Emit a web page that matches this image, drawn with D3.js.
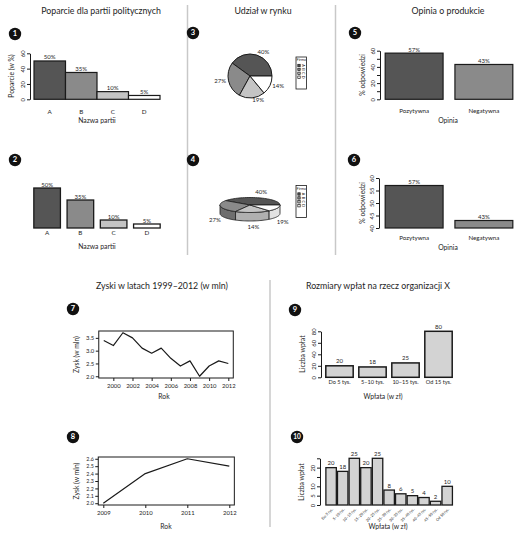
<!DOCTYPE html>
<html><head><meta charset="utf-8">
<script src="https://cdn.jsdelivr.net/npm/d3@7"></script>
<style>body{margin:0;background:#fff} svg{display:block}</style>
</head><body><svg id="c" width="520" height="535"></svg>
<script>
// ---------- DATA ----------
const parties = ["A","B","C","D"];
const support = [50,35,10,5];
const supportLabels = ["50%","35%","10%","5%"];
const partyColors = ["#555555","#8a8a8a","#c4c4c4","#ffffff"];
const firms = ["A","B","C","D"];
const share = [40,27,19,14];
const pieLabels = ["40%","27%","19%","14%"];
const pie3DLabels = ["40%","27%","14%","19%"];
const opinions = ["Pozytywna","Negatywna"];
const opinionPct = [57,43];
const opinionLabels = ["57%","43%"];
const opinionColors = ["#555555","#8a8a8a"];
const years = [1999,2000,2001,2002,2003,2004,2005,2006,2007,2008,2009,2010,2011,2012];
const profit = [3.4,3.2,3.7,3.5,3.1,2.9,3.1,2.7,2.4,2.6,2.0,2.4,2.6,2.5];
const years2 = [2009,2010,2011,2012];
const profit2 = [2.0,2.4,2.6,2.5];
const bins4 = ["Do 5 tys.","5–10 tys.","10–15 tys.","Od 15 tys."];
const counts4 = [20,18,25,80];
const bins11 = ["Do 5 tys.","5–10 tys.","10–15 tys.","15–20 tys.","20–25 tys.","25–30 tys.","30–35 tys.","35–40 tys.","40–45 tys.","45–50 tys.","Od 50 tys."];
const counts11 = [20,18,25,20,25,8,6,5,4,2,10];

// ---------- HELPERS ----------
const FONT = "Lato, 'Open Sans', sans-serif";
const svg = d3.select("#c");
const INK = "#1a1a1a";
const TXT = "#1e1e1e";
function txt(x, y, s, size, o = {}) {
  const t = svg.append("text").attr("x", x).attr("y", y).text(s)
    .attr("font-size", size).attr("font-family", FONT)
    .attr("text-anchor", o.anchor || "middle")
    .attr("dominant-baseline", o.baseline || "middle")
    .attr("fill", o.fill || TXT);
  if (o.rotate) t.attr("transform", `rotate(${o.rotate},${x},${y})`);
  if (o.weight) t.attr("font-weight", o.weight);
  return t;
}
function badge(x, y, n) {
  svg.append("circle").attr("cx", x).attr("cy", y).attr("r", 6.2).attr("fill", "#111");
  txt(x, y + 0.5, n, n.length > 1 ? 6.5 : 7.5, {fill: "#fff", weight: "bold"});
}
function styleAxis(g) {
  g.select(".domain").attr("stroke", INK).attr("stroke-width", 1);
  g.selectAll(".tick line").attr("stroke", INK).attr("stroke-width", 1);
}
function yAxisRot(x, y, ticks, labels, size) {
  const ax = d3.axisLeft(y).tickValues(ticks).tickSize(3).tickSizeOuter(0)
    .tickFormat(d => labels.includes(d) ? String(d) : "");
  const g = svg.append("g").attr("transform", `translate(${x},0)`).call(ax);
  styleAxis(g);
  g.selectAll(".tick text").attr("x", null).attr("dy", null)
    .attr("transform", "translate(-5,0) rotate(-90)")
    .attr("text-anchor", "middle").attr("font-size", size)
    .attr("font-family", FONT).attr("fill", TXT);
  return g;
}
function bars(xs, y, cats, vals, base, fills, sw) {
  svg.append("g").selectAll("rect").data(vals).join("rect")
    .attr("x", (d, i) => xs(cats[i])).attr("y", d => y(d))
    .attr("width", xs.bandwidth()).attr("height", d => y(base) - y(d))
    .attr("fill", (d, i) => Array.isArray(fills) ? fills[i] : fills)
    .attr("stroke", INK).attr("stroke-width", sw);
}
function valueLabels(xs, y, cats, vals, labs, size, off) {
  vals.forEach((v, i) => txt(xs(cats[i]) + xs.bandwidth() / 2, y(v) - off, labs[i], size, {baseline: "auto"}));
}
function catLabels(xs, cats, yy, size) {
  cats.forEach(c => txt(xs(c) + xs.bandwidth() / 2, yy, c, size));
}

// ---------- DIVIDERS ----------
[[187.5, 5, 255], [335.5, 5, 255], [270, 280, 527]].forEach(([x, a, b]) =>
  svg.append("line").attr("x1", x).attr("x2", x).attr("y1", a).attr("y2", b)
    .attr("stroke", "#c8c8c8").attr("stroke-width", 1.5));

// ---------- TITLES ----------
const TFS = 8.8;
txt(101, 12, "Poparcie dla partii politycznych", TFS);
txt(263, 12, "Udział w rynku", TFS);
txt(448, 12, "Opinia o produkcie", TFS);
txt(162, 287, "Zyski w latach 1999–2012 (w mln)", TFS);
txt(378, 287, "Rozmiary wpłat na rzecz organizacji X", TFS);

const AFS = 6.8;  // axis titles
const VFS = 6;    // value labels
const KFS = 5.9;  // tick labels

// ---------- PANEL 1 ----------
badge(15, 34, "1");
{
  const xs = d3.scaleBand().domain(parties).range([34, 160]).padding(0);
  const y = d3.scaleLinear().domain([0, 60]).range([99.3, 53.3]);
  bars(xs, y, parties, support, 0, partyColors, 1.2);
  yAxisRot(30, y, [0, 20, 40, 60], [0, 20, 40, 60], KFS);
  valueLabels(xs, y, parties, support, supportLabels, VFS, 1.5);
  catLabels(xs, parties, 112, 6.3);
  txt(97, 121, "Nazwa partii", AFS);
  txt(12, 76, "Poparcie (w %)", AFS, {rotate: -90});
}

// ---------- PANEL 2 ----------
badge(15, 160, "2");
{
  const xs = d3.scaleBand().domain(parties).range([30.5, 163.5]).paddingInner(0.2).paddingOuter(0.1);
  const y = d3.scaleLinear().domain([0, 60]).range([228, 180]);
  bars(xs, y, parties, support, 0, partyColors, 1.3);
  valueLabels(xs, y, parties, support, supportLabels, VFS, 1.5);
  catLabels(xs, parties, 233.5, 6.3);
  txt(97, 247, "Nazwa partii", AFS);
}

// ---------- PANEL 3 (pie) ----------
badge(193, 33, "3");
{
  const cx = 250, cy = 76, r = 22;
  const pie = d3.pie().sort(null).startAngle(Math.PI / 2).endAngle(Math.PI / 2 - 2 * Math.PI);
  const arcs = pie(share);
  const arc = d3.arc().innerRadius(0).outerRadius(r);
  const g = svg.append("g").attr("transform", `translate(${cx},${cy})`);
  g.selectAll("path").data(arcs).join("path").attr("d", arc)
    .attr("fill", (d, i) => partyColors[i]).attr("stroke", INK).attr("stroke-width", 1);
  arcs.forEach((a, i) => {
    const m = (a.startAngle + a.endAngle) / 2; // d3 angle: 0 at top, clockwise
    const dx = Math.sin(m), dy = -Math.cos(m);
    txt(cx + 1.12 * r * dx, cy + 1.12 * r * dy, pieLabels[i], VFS, {anchor: dx >= 0 ? "start" : "end"});
  });
}
function legend(x0, y0) {
  svg.append("rect").attr("x", x0).attr("y", y0).attr("width", 10.5).attr("height", 32)
    .attr("fill", "#fff").attr("stroke", INK).attr("stroke-width", 0.8);
  txt(x0 + 5.3, y0 + 3.3, "Firma", 3.8);
  firms.forEach((f, i) => {
    const yy = y0 + 8.5 + i * 3.9;
    svg.append("rect").attr("x", x0 + 1.8).attr("y", yy - 1.2).attr("width", 2.4).attr("height", 2.4)
      .attr("fill", partyColors[i]).attr("stroke", INK).attr("stroke-width", 0.7);
    txt(x0 + 7.3, yy, f, 3.8, {rotate: 90});
  });
}
legend(296, 57);

// ---------- PANEL 4 (3D pie) ----------
badge(193, 160, "4");
{
  const cx = 250, cy = 205, rx = 30, ry = 7.5, h = 8.5;
  const pie = d3.pie().sort(null).startAngle(0).endAngle(2 * Math.PI);
  const arcs = pie(share); // interpreted as angle counter-clockwise from east
  const pt = (t, dy = 0) => [cx + rx * Math.cos(t), cy - ry * Math.sin(t) + dy];
  const sideCol = ["#444444", "#6e6e6e", "#b0b0b0", "#e2e2e2"];
  const g = svg.append("g");
  arcs.forEach((a, i) => {
    const s = Math.max(a.startAngle, Math.PI), e = Math.min(a.endAngle, 2 * Math.PI);
    if (e <= s) return;
    const n = 30, top = [], bot = [];
    for (let k = 0; k <= n; k++) { const t = s + (e - s) * k / n; top.push(pt(t)); bot.push(pt(t, h)); }
    const path = "M" + top.map(p => p.join(",")).join("L") + "L" + bot.reverse().map(p => p.join(",")).join("L") + "Z";
    g.append("path").attr("d", path).attr("fill", sideCol[i]).attr("stroke", INK).attr("stroke-width", 0.8);
  });
  arcs.forEach((a, i) => {
    const n = 40, ps = [[cx, cy]];
    for (let k = 0; k <= n; k++) ps.push(pt(a.startAngle + (a.endAngle - a.startAngle) * k / n));
    g.append("path").attr("d", "M" + ps.map(p => p.join(",")).join("L") + "Z")
      .attr("fill", partyColors[i]).attr("stroke", INK).attr("stroke-width", 0.8);
  });
  arcs.forEach((a, i) => {
    const m = (a.startAngle + a.endAngle) / 2;
    const sn = Math.sin(m);
    txt(cx + 1.2 * rx * Math.cos(m), cy - 1.25 * ry * sn + (sn < 0 ? h + 4.5 : -3.5), pie3DLabels[i], VFS);
  });
}
legend(296, 185.5);

// ---------- PANEL 5 ----------
badge(355, 33, "5");
{
  const xs = d3.scaleBand().domain(opinions).range([381, 517]).paddingInner(0.17).paddingOuter(0.06);
  const y = d3.scaleLinear().domain([0, 60]).range([99.3, 50.7]);
  bars(xs, y, opinions, opinionPct, 0, opinionColors, 1.2);
  yAxisRot(380, y, [0, 10, 20, 30, 40, 50, 60], [0, 20, 40, 60], KFS);
  valueLabels(xs, y, opinions, opinionPct, opinionLabels, VFS, 1.5);
  catLabels(xs, opinions, 111, 6.2);
  txt(448, 121, "Opinia", AFS);
  txt(363, 75, "% odpowiedzi", AFS, {rotate: -90});
}

// ---------- PANEL 6 ----------
badge(354, 160, "6");
{
  const xs = d3.scaleBand().domain(opinions).range([381, 517]).paddingInner(0.17).paddingOuter(0.06);
  const y = d3.scaleLinear().domain([40, 60]).range([228, 178]);
  bars(xs, y, opinions, opinionPct, 40, opinionColors, 1.2);
  yAxisRot(379, y, [40, 45, 50, 55, 60], [40, 45, 50, 55, 60], KFS);
  valueLabels(xs, y, opinions, opinionPct, opinionLabels, VFS, 1.5);
  catLabels(xs, opinions, 238.5, 6.2);
  txt(448, 248, "Opinia", AFS);
  txt(363, 203, "% odpowiedzi", AFS, {rotate: -90});
}

// ---------- LINE PANELS ----------
function linePanel(yr, vals, x0, x1, yTop, yBot, yTicks, xTicks, fmt, tickFs) {
  const pad = (yr[yr.length - 1] - yr[0]) * 0.04;
  const dmin = d3.min(vals), dmax = d3.max(vals), vpad = (dmax - dmin) * 0.04;
  const x = d3.scaleLinear().domain([yr[0], yr[yr.length - 1]]).range([x0, x1]);
  const y = d3.scaleLinear().domain([dmin - vpad, dmax + vpad]).range([yBot, yTop]);
  const bx0 = x(yr[0] - pad), bx1 = x(yr[yr.length - 1] + pad);
  svg.append("path").datum(vals).attr("fill", "none").attr("stroke", INK).attr("stroke-width", 1.2)
    .attr("stroke-linejoin", "round")
    .attr("d", d3.line().x((d, i) => x(yr[i])).y(d => y(d)));
  svg.append("rect").attr("x", bx0).attr("y", yTop).attr("width", bx1 - bx0).attr("height", yBot - yTop)
    .attr("fill", "none").attr("stroke", INK).attr("stroke-width", 1);
  const gy = svg.append("g").attr("transform", `translate(${bx0},0)`)
    .call(d3.axisLeft(y).tickValues(yTicks).tickSize(3).tickSizeOuter(0).tickFormat(d3.format(fmt)));
  styleAxis(gy); gy.select(".domain").remove();
  gy.selectAll(".tick text").attr("x", -4.5).attr("font-size", tickFs).attr("font-family", FONT).attr("fill", TXT);
  const gx = svg.append("g").attr("transform", `translate(0,${yBot})`)
    .call(d3.axisBottom(x).tickValues(xTicks).tickSize(3).tickSizeOuter(0).tickFormat(d3.format("d")));
  styleAxis(gx); gx.select(".domain").remove();
  gx.selectAll(".tick text").attr("y", 6).attr("font-size", KFS).attr("font-family", FONT).attr("fill", TXT);
}
badge(73, 309, "7");
linePanel(years, profit, 103.75, 228.3, 331, 378, [2.0, 2.5, 3.0, 3.5], [2000, 2002, 2004, 2006, 2008, 2010, 2012], ".1f", KFS);
txt(164, 397, "Rok", AFS);
txt(77, 354.5, "Zysk (w mln)", AFS, {rotate: -90});

badge(73, 437, "8");
linePanel(years2, profit2, 103.3, 229.3, 457, 505, [2.0, 2.1, 2.2, 2.3, 2.4, 2.5, 2.6], years2, ".1f", 5.3);
txt(166, 527, "Rok", AFS);
txt(77, 481, "Zysk (w mln)", AFS, {rotate: -90});

// ---------- PANEL 9 ----------
badge(295, 310, "9");
{
  const xs = d3.scaleBand().domain(bins4).range([322.5, 455.5]).paddingInner(0.17).paddingOuter(0.1);
  const y = d3.scaleLinear().domain([0, 80]).range([377.3, 331.3]);
  bars(xs, y, bins4, counts4, 0, "#d3d3d3", 1.5);
  yAxisRot(321, y, [0, 20, 40, 60, 80], [0, 20, 40, 60, 80], KFS);
  valueLabels(xs, y, bins4, counts4, counts4.map(String), VFS, 2.5);
  catLabels(xs, bins4, 383, 5.6);
  txt(383, 397, "Wpłata (w zł)", AFS);
  txt(303, 354, "Liczba wpłat", AFS, {rotate: -90});
}

// ---------- PANEL 10 ----------
badge(297, 437, "10");
{
  const xs = d3.scaleBand().domain(bins11).range([325.3, 453]).paddingInner(0.1).paddingOuter(0.05);
  const y = d3.scaleLinear().domain([0, 25]).range([505, 458.3]);
  bars(xs, y, bins11, counts11, 0, "#d3d3d3", 1.3);
  yAxisRot(320, y, [0, 5, 10, 15, 20, 25], [0, 5, 10, 20], KFS);
  valueLabels(xs, y, bins11, counts11, counts11.map(String), VFS, 2.3);
  bins11.forEach(b => {
    const xx = xs(b) + xs.bandwidth() / 2 + 1.5, yy = 509;
    txt(xx, yy, b, 3.7, {anchor: "end", rotate: -45});
  });
  txt(388, 527, "Wpłata (w zł)", AFS);
  txt(302, 482, "Liczba wpłat", AFS, {rotate: -90});
}
</script>
</body></html>
